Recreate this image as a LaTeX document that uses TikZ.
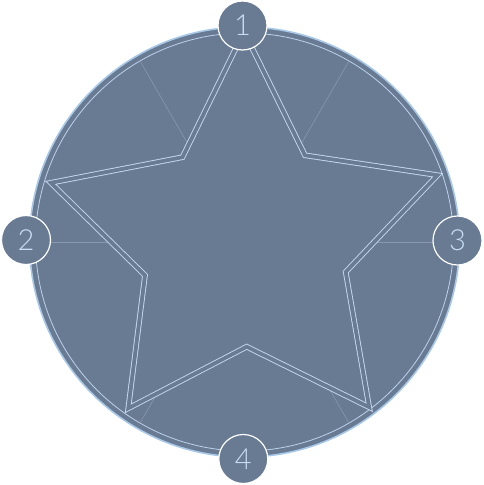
\documentclass[tikz,border=0pt]{standalone}
\usepackage{fontspec}
\setmainfont{Lato}[UprightFont=* Light]
\definecolor{bg}{HTML}{687B93}
\definecolor{rimc}{HTML}{A8C8E8}
\definecolor{ringc}{HTML}{BCD0EA}
\definecolor{spokec}{HTML}{8797AE}
\definecolor{starc}{HTML}{C6D8F0}
\definecolor{numc}{HTML}{C8DCF4}
\tikzset{
  rim/.style={draw=rimc, line width=1.6pt},
  innerring/.style={draw=ringc, line width=0.8pt},
  spoke/.style={draw=spokec, line width=0.6pt},
  starline/.style={draw=starc, line width=0.9pt, double=bg, double distance=3.8pt, line join=miter},
  badge/.style={circle, fill=bg, draw=white, line width=1.2pt, minimum size=49pt, inner sep=0pt,
    text=numc, font=\fontsize{29}{29}\selectfont}
}
\begin{document}
\begin{tikzpicture}[x=1pt,y=-1pt]
\useasboundingbox (0,0) rectangle (484,485);
\coordinate (c) at (244.5,242);
\fill[bg] (c) circle (215);
\draw[rim] (c) circle (215);
\draw[innerring] (c) circle (209);
\foreach \a in {0,60,120,180,240,300} \draw[spoke] (c) -- ++(\a:209);
% star vertices (middle line of the double outline)
\coordinate (s1) at (244,31.5);
\coordinate (s2) at (305,155.3);
\coordinate (s3) at (437.5,175.2);
\coordinate (s4) at (345.7,272);
\coordinate (s5) at (369.2,407.2);
\coordinate (s6) at (246.7,346.7);
\coordinate (s7) at (128.3,408.3);
\coordinate (s8) at (145,275.3);
\coordinate (s9) at (50.8,182.8);
\coordinate (s10) at (182.5,157.2);
\fill[bg] (s1) -- (s2) -- (s3) -- (s4) -- (s5) -- (s6) -- (s7) -- (s8) -- (s9) -- (s10) -- cycle;
\draw[starline] (s1) -- (s2) -- (s3) -- (s4) -- (s5) -- (s6) -- (s7) -- (s8) -- (s9) -- (s10) -- cycle;
\node[badge] (b1) at (242.5,25.5) {1};
\node[badge] (b2) at (26,240) {2};
\node[badge] (b3) at (457.5,240.5) {3};
\node[badge] (b4) at (243.3,459) {4};
\end{tikzpicture}
\end{document}
